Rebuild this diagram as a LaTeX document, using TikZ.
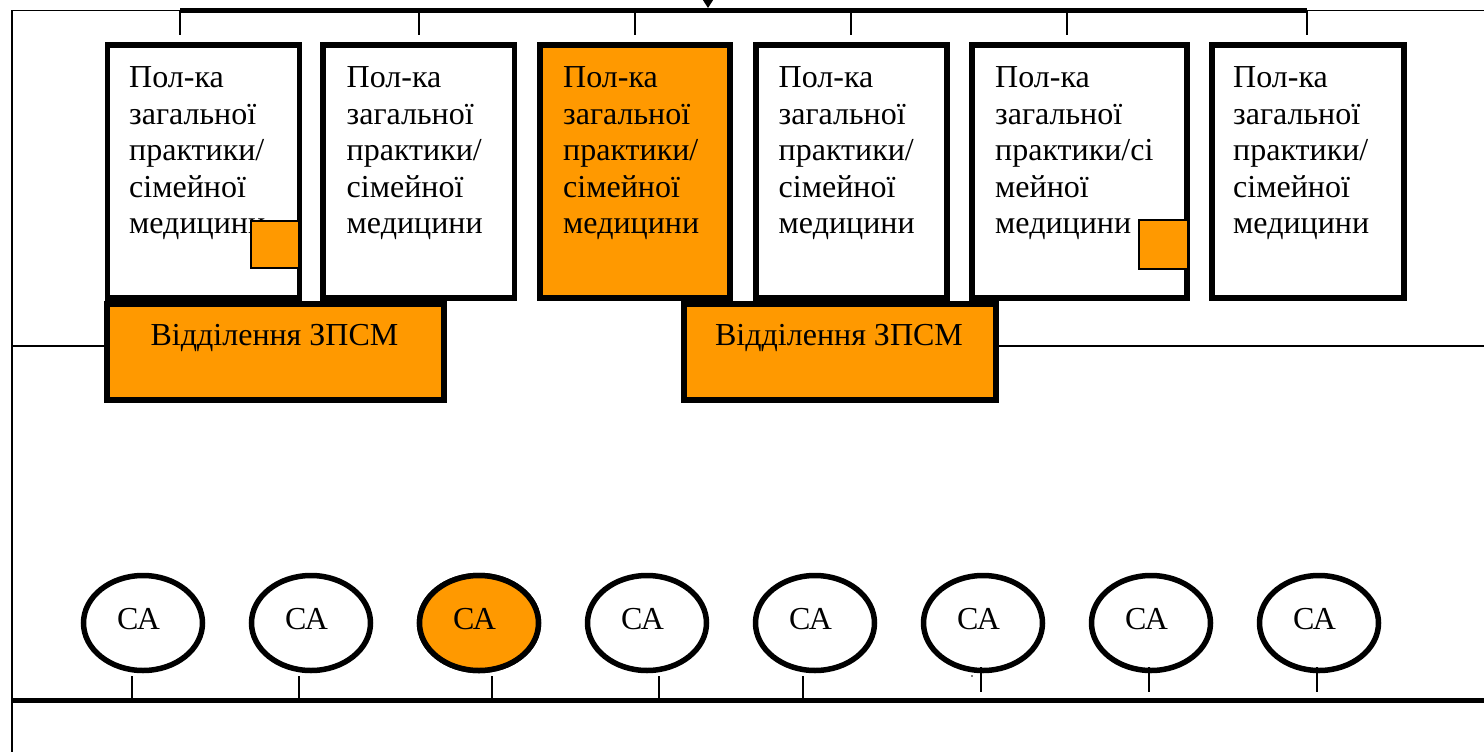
\documentclass[tikz,border=0pt]{standalone}
\usepackage{fontspec}
\setmainfont{Liberation Serif}
\usetikzlibrary{calc,arrows.meta,shapes.geometric}
\definecolor{orng}{RGB}{255,153,0}
\begin{document}
\begin{tikzpicture}[x=1pt,y=-1pt,
  thinline/.style={line width=1.6pt},
  busline/.style={line width=5pt},
  polbox/.style={draw,line width=5.5pt,rectangle,inner sep=0pt,outer sep=0pt,anchor=north west},
  poltext/.style={anchor=base west,inner sep=0pt,align=left,text width=220pt,
     font=\fontsize{32}{36.5}\selectfont},
  zpsm/.style={draw,line width=5.5pt,rectangle,fill=orng,inner sep=0pt,outer sep=0pt,anchor=north west},
  zpsmtext/.style={anchor=base,inner sep=0pt,font=\fontsize{32}{36.5}\selectfont},
  sq/.style={draw,line width=1.4pt,fill=orng,rectangle,inner sep=0pt,outer sep=0pt,anchor=north west},
  ca/.style={draw,ellipse,line width=5.5pt,inner sep=0pt,minimum width=119pt,minimum height=95pt,
     font=\fontsize{32}{36.5}\selectfont},
  stub/.style={line width=1.6pt}
]
\useasboundingbox (0,0) rectangle (1484,752);
\clip (0,0) rectangle (1484,752);

% frame and buses
\coordinate (tl) at (12,10.5);
\coordinate (bl) at (12,752);
\coordinate (busL) at (180,10.5);
\coordinate (busR) at (1307,10.5);
\coordinate (tr) at (1484,10.5);
\draw[thinline] (bl) -- (tl) -- (busL);
\draw[thinline] (busR) -- (tr);
\draw[busline] (busL) -- (busR);
\coordinate (arrTop) at (708,-40);
\coordinate (arrTip) at (708,8);
\draw[line width=1.5pt,-{Triangle[width=15pt,length=12pt]}] (arrTop) -- (arrTip);

% ticks from bus
\foreach \x/\n in {180/1,419/2,635/3,851/4,1067/5,1307/6}{
  \coordinate (ta\n) at (\x,10.5);
  \coordinate (tb\n) at (\x,35);
  \draw[thinline] (ta\n) -- (tb\n);
}

% polyclinic boxes
\node[polbox,minimum width=192pt,minimum height=253pt] (b1) at (107.5,45) {};
\node[polbox,minimum width=191.5pt,minimum height=253pt] (b2) at (323,45) {};
\node[polbox,fill=orng,minimum width=190pt,minimum height=253pt] (b3) at (540,45) {};
\node[polbox,minimum width=191pt,minimum height=253pt] (b4) at (756,45) {};
\node[polbox,minimum width=215pt,minimum height=253pt] (b5) at (972,45) {};
\node[polbox,minimum width=192pt,minimum height=253pt] (b6) at (1212,45) {};

\node[poltext] (t1) at ($(b1.north west)+(21.5,43)$) {Пол-ка\\загальної\\практики/\\сімейної\\медицини};
\node[poltext] (t2) at ($(b2.north west)+(23.5,43)$) {Пол-ка\\загальної\\практики/\\сімейної\\медицини};
\node[poltext] (t3) at ($(b3.north west)+(23,43)$) {Пол-ка\\загальної\\практики/\\сімейної\\медицини};
\node[poltext] (t4) at ($(b4.north west)+(22.5,43)$) {Пол-ка\\загальної\\практики/\\сімейної\\медицини};
\node[poltext] (t5) at ($(b5.north west)+(23,43)$) {Пол-ка\\загальної\\практики/сі\\мейної\\медицини};
\node[poltext] (t6) at ($(b6.north west)+(21,43)$) {Пол-ка\\загальної\\практики/\\сімейної\\медицини};

% small squares
\node[sq,minimum width=48pt,minimum height=47pt] (q1) at (251,221) {};
\node[sq,minimum width=49pt,minimum height=49pt] (q5) at (1139,220) {};

% ZPSM departments
\node[zpsm,minimum width=337pt,minimum height=96pt] (z1) at (107,304) {};
\node[zpsm,minimum width=312pt,minimum height=96pt] (z2) at (684,304) {};
\node[zpsmtext] (zt1) at ($(z1.north)+(-1,41)$) {Відділення ЗПСМ};
\node[zpsmtext] (zt2) at ($(z2.north)+(-1,41)$) {Відділення ЗПСМ};
\coordinate (hl) at (12,346);
\coordinate (hr) at (1484,346);
\draw[thinline] (hl) -- (hl -| z1.west);
\draw[thinline] (hr -| z2.east) -- (hr);

% bottom bus
\coordinate (bbL) at (12,700);
\coordinate (bbR) at (1484,700);
\draw[busline] (bbL) -- (bbR);

% CA ellipses
\foreach \i in {1,...,8}{
  \pgfmathsetmacro{\cx}{143+168*(\i-1)}
  \node[ca] (e\i) at (\cx,623) {\raisebox{8.5pt}{\makebox[0pt]{\hspace*{-9pt}СА}}};
}
\node[ca,fill=orng] (e3) at (479,623) {\raisebox{8.5pt}{\makebox[0pt]{\hspace*{-9pt}СА}}};

% stubs to bottom bus
\foreach \x/\ya/\yb/\n in {132/676/700/1,299/676/700/2,492/676/700/3,659/676/700/4,803/676/700/5,981/667/692/6,1149/667/692/7,1317/667/692/8}{
  \coordinate (sa\n) at (\x,\ya);
  \coordinate (sb\n) at (\x,\yb);
  \draw[stub] (sa\n) -- (sb\n);
}
\fill (972,676) circle (0.9pt);
\end{tikzpicture}
\end{document}
